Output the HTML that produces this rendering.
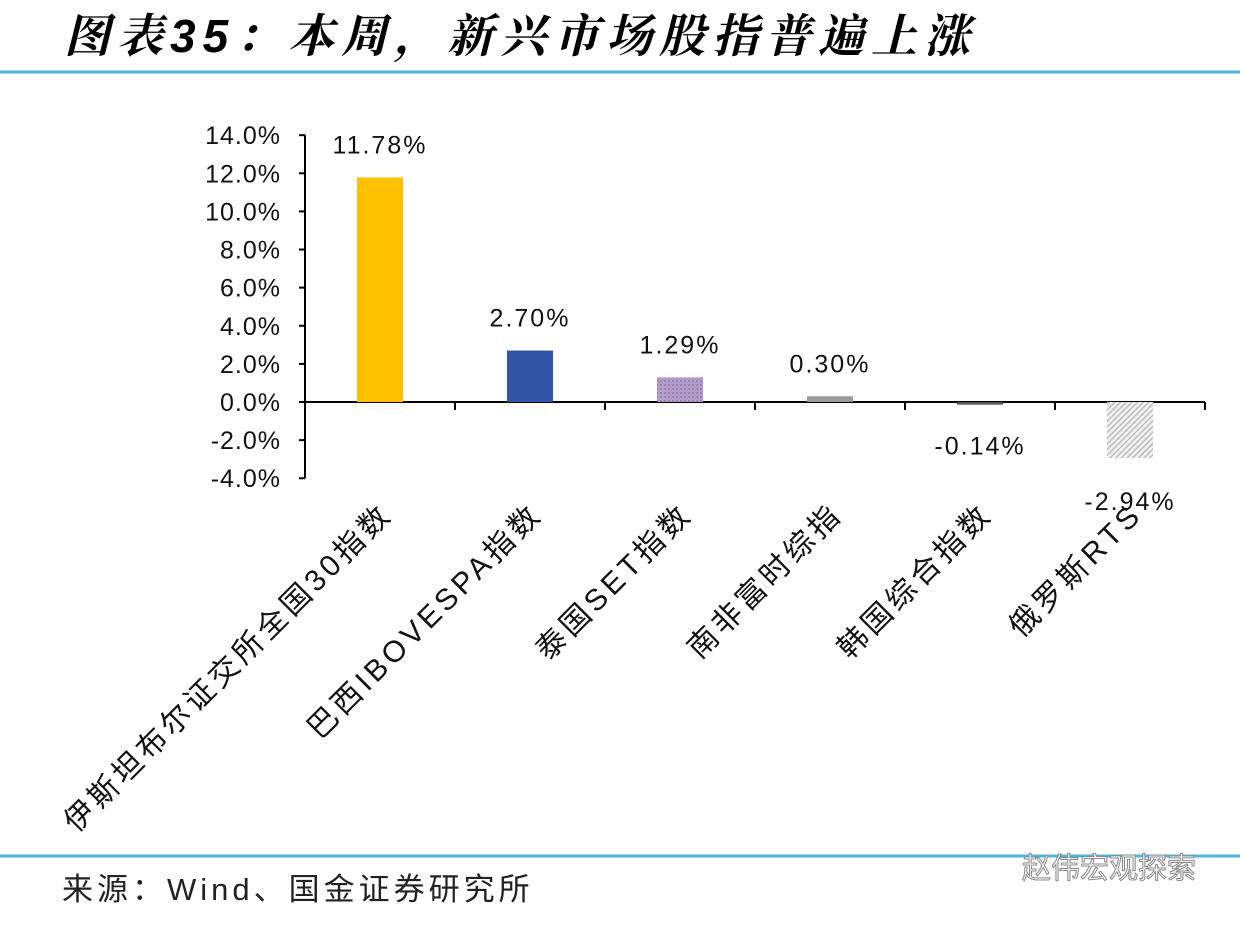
<!DOCTYPE html>
<html><head><meta charset="utf-8"><style>
body{margin:0;background:#fff;width:1240px;height:920px;overflow:hidden;font-family:"Liberation Sans","Noto Sans CJK SC",sans-serif}
</style></head><body>
<svg width="1240" height="920" xmlns="http://www.w3.org/2000/svg">
<defs>
<pattern id="pPurple" width="4" height="4" patternUnits="userSpaceOnUse"><rect width="4" height="4" fill="#b39cc8"/><rect width="2" height="2" fill="#9a80b4"/></pattern>
<pattern id="pGray" width="4" height="4" patternUnits="userSpaceOnUse" patternTransform="rotate(45)"><rect width="4" height="4" fill="#f2f2f2"/><rect width="1.5" height="4" fill="#bdbdbd"/></pattern>
</defs>
<text x="64" y="52" font-size="46" font-weight="bold" font-style="italic" letter-spacing="7" font-family="'Liberation Sans','Noto Serif CJK SC',serif">图表35：本周，新兴市场股指普遍上涨</text>
<line x1="0" y1="72" x2="1240" y2="72" stroke="#4db6e0" stroke-width="3"/>
<line x1="0" y1="856" x2="1240" y2="856" stroke="#4db6e0" stroke-width="3"/>
<text x="62" y="900" font-size="31" letter-spacing="4" fill="#222">来源：Wind、国金证券研究所</text>
<text x="1022" y="878" font-size="29" fill="#fff" stroke="#888" stroke-width="1">赵伟宏观探索</text>
<g id="plot"></g>
</svg>
<script>
const categories=["伊斯坦布尔证交所全国30指数","巴西IBOVESPA指数","泰国SET指数","南非富时综指","韩国综合指数","俄罗斯RTS"];
const values=[11.78,2.70,1.29,0.30,-0.14,-2.94];
const valueLabels=["11.78%","2.70%","1.29%","0.30%","-0.14%","-2.94%"];
const yTicks=[14,12,10,8,6,4,2,0,-2,-4];
const fills=["#ffc000","#2f55a4","url(#pPurple)","#9a9a9a","#555","url(#pGray)"];
const NS="http://www.w3.org/2000/svg";
const g=document.getElementById('plot');
const x0=305,step=150,bw=46;
const y=v=>402-v*19.06;
const cx=i=>x0+step*(i+0.5);
function el(t,a){const e=document.createElementNS(NS,t);for(const k in a)e.setAttribute(k,a[k]);g.appendChild(e);return e;}
let ax=el('line',{x1:x0,y1:y(14),x2:x0,y2:y(-4),stroke:'#000','stroke-width':2});


yTicks.forEach(t=>{
 let l=el('line',{x1:x0-6,y1:y(t),x2:x0,y2:y(t),stroke:'#000','stroke-width':2});
 
 
 let tx=el('text',{x:x0-24,y:y(t)+9,'font-size':25,'letter-spacing':1,'text-anchor':'end',fill:'#111'});
 tx.textContent=t.toFixed(1)+'%';
 
 
});
let xa=el('line',{x1:x0,y1:y(0),x2:x0+step*categories.length,y2:y(0),stroke:'#000','stroke-width':2});


for(let i=0;i<=categories.length;i++){
 let l=el('line',{x1:x0+step*i,y1:y(0),x2:x0+step*i,y2:y(0)+8,stroke:'#000','stroke-width':2});
 
 
}
values.forEach((v,i)=>{
 const top=Math.min(y(v),y(0)),h=Math.max(Math.abs(y(v)-y(0)),1.5);
 let r=el('rect',{x:cx(i)-bw/2,y:top,width:bw,height:h,fill:fills[i]});
 
 
 const ly=v>=0?y(v)-24:y(v)+ (i===4?50:52);
 let t=el('text',{x:cx(i),y:ly,'font-size':25,'letter-spacing':2,'text-anchor':'middle',fill:'#111'});
 t.textContent=valueLabels[i];
 
 
 const lx=cx(i)+14,lyy=516;
 let c=el('text',{x:lx,y:lyy,'font-size':30,'letter-spacing':4,'text-anchor':'end',fill:'#111',transform:`rotate(-45 ${lx} ${lyy})`});
 c.textContent=categories[i];
 
 
});
</script>
</body></html>
